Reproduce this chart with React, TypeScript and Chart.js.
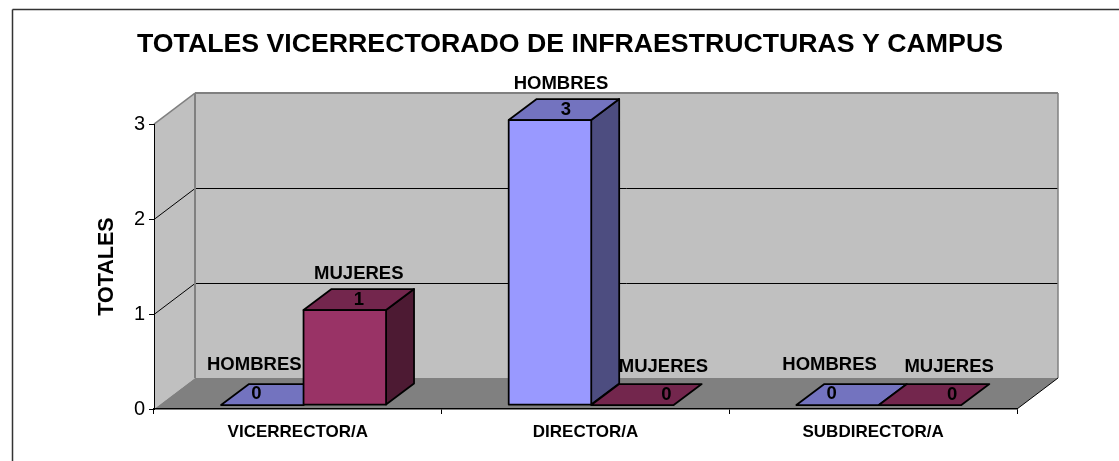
import React, { useEffect, useRef } from "react";
import { Chart, registerables } from "chart.js";

Chart.register(...registerables);

const titleText = "TOTALES VICERRECTORADO DE INFRAESTRUCTURAS Y CAMPUS";
const yAxisTitle = "TOTALES";
const categories = ["VICERRECTOR/A", "DIRECTOR/A", "SUBDIRECTOR/A"];
const hombres = [0, 3, 0];
const mujeres = [1, 0, 0];
const yTicks = [0, 1, 2, 3];

const FONT = '"Liberation Sans", Arial, sans-serif';

const WALL = { dx: 41, dy: -31 };
const BAR_SHIFT = { dx: 5.7, dy: -4 };
const BAR_DEPTH = { dx: 28, dy: -21 };
const EDGE = 1.75;

// [name dx, name dy, value dx, value dy] by dataset, then by category
const LABEL_NUDGE: number[][][] = [
  [[-22, -40, -20, -11], [-3, -36, 2, -10], [-22, -40, -20, -11]],
  [[0, -36, 0, -10], [17, -38, 20, -10], [15, -38, 18, -10]],
];

const poly = (ctx: CanvasRenderingContext2D, pts: number[][], fill: string, stroke?: string, lw = 1) => {
  ctx.beginPath();
  pts.forEach((p, i) => (i ? ctx.lineTo(p[0], p[1]) : ctx.moveTo(p[0], p[1])));
  ctx.closePath();
  ctx.fillStyle = fill;
  ctx.fill();
  if (stroke) {
    ctx.strokeStyle = stroke;
    ctx.lineWidth = lw;
    ctx.lineJoin = "round";
    ctx.stroke();
  }
};

const line = (ctx: CanvasRenderingContext2D, x1: number, y1: number, x2: number, y2: number, color: string, lw: number) => {
  ctx.beginPath();
  ctx.moveTo(x1, y1);
  ctx.lineTo(x2, y2);
  ctx.strokeStyle = color;
  ctx.lineWidth = lw;
  ctx.stroke();
};

const box3d = {
  id: "box3d",
  beforeDraw(chart: any) {
    const { ctx, chartArea: a, scales } = chart;
    const { dx, dy } = WALL;
    ctx.save();
    // outer frame of the chart object
    line(ctx, 12.5, 9.5, chart.width, 9.5, "#333", 1.5);
    line(ctx, 12.5, 9.5, 12.5, chart.height, "#333", 1.5);
    // back and left walls, floor
    poly(ctx, [[a.left + dx, a.top + dy], [a.right + dx, a.top + dy], [a.right + dx, a.bottom + dy], [a.left + dx, a.bottom + dy]], "#C0C0C0");
    poly(ctx, [[a.left, a.top], [a.left + dx, a.top + dy], [a.left + dx, a.bottom + dy], [a.left, a.bottom]], "#C0C0C0");
    poly(ctx, [[a.left, a.bottom], [a.left + dx, a.bottom + dy], [a.right + dx, a.bottom + dy], [a.right, a.bottom]], "#808080");
    // wall gridlines
    yTicks.slice(1, -1).forEach((v) => {
      const y = Math.round(scales.y.getPixelForValue(v)) + 0.5;
      line(ctx, a.left, y, a.left + dx, y + dy, "#000", 1);
      line(ctx, a.left + dx, y + dy, a.right + dx, y + dy, "#000", 1);
    });
    line(ctx, a.left, a.top, a.left + dx, a.top + dy, "#808080", 1.5);
    line(ctx, a.left + dx, a.top + dy, a.right + dx, a.top + dy, "#808080", 2);
    line(ctx, a.left + dx, a.top + dy, a.left + dx, a.bottom + dy, "#808080", 2);
    line(ctx, a.right + dx, a.top + dy, a.right + dx, a.bottom + dy, "#808080", 1.5);
    line(ctx, a.right, a.bottom, a.right + dx, a.bottom + dy, "#000", 1);
    ctx.restore();
  },
  beforeDatasetsDraw(chart: any) {
    const { ctx } = chart;
    ctx.save();
    ctx.translate(BAR_SHIFT.dx, BAR_SHIFT.dy);
    const { dx, dy } = BAR_DEPTH;
    chart.data.datasets.forEach((ds: any, i: number) => {
      chart.getDatasetMeta(i).data.forEach((el: any) => {
        const l = el.x - el.width / 2;
        const r = el.x + el.width / 2;
        const t = el.y;
        const b = el.base;
        if (b - t > 0.5) {
          poly(ctx, [[r, t], [r + dx, t + dy], [r + dx, b + dy], [r, b]], ds.sideColor, "#000", EDGE);
        }
        poly(ctx, [[l, t], [l + dx, t + dy], [r + dx, t + dy], [r, t]], ds.topColor, "#000", EDGE);
      });
    });
    ctx.restore();
  },
  beforeDatasetDraw(chart: any) {
    chart.ctx.save();
    chart.ctx.translate(BAR_SHIFT.dx, BAR_SHIFT.dy);
  },
  afterDatasetDraw(chart: any, args: any) {
    const { ctx } = chart;
    ctx.strokeStyle = "#000";
    ctx.lineWidth = EDGE;
    ctx.lineJoin = "round";
    args.meta.data.forEach((el: any) => {
      if (el.base - el.y > 0.5) {
        ctx.strokeRect(el.x - el.width / 2, el.y, el.width, el.base - el.y);
      }
    });
    ctx.restore();
  },
  afterDatasetsDraw(chart: any) {
    const { ctx } = chart;
    ctx.save();
    ctx.fillStyle = "#000";
    ctx.textAlign = "center";
    ctx.textBaseline = "middle";
    chart.data.datasets.forEach((ds: any, i: number) => {
      chart.getDatasetMeta(i).data.forEach((el: any, j: number) => {
        const cx = el.x + BAR_SHIFT.dx + BAR_DEPTH.dx / 2;
        const top = el.y + BAR_SHIFT.dy;
        const [nx, ny, vx, vy] = LABEL_NUDGE[i][j];
        ctx.font = `bold 18.5px ${FONT}`;
        ctx.fillText(ds.label, cx + nx, top + ny);
        ctx.fillText(String(ds.data[j]), cx + vx, top + vy);
      });
    });
    ctx.restore();
  },
};

export default function App() {
  const ref = useRef<HTMLCanvasElement>(null);
  useEffect(() => {
    const chart = new Chart(ref.current as HTMLCanvasElement, {
      type: "bar",
      data: {
        labels: categories,
        datasets: [
          { label: "HOMBRES", data: hombres, backgroundColor: "#9999FF", topColor: "#7373BF", sideColor: "#4D4D80", borderWidth: 0 },
          { label: "MUJERES", data: mujeres, backgroundColor: "#993366", topColor: "#73264D", sideColor: "#4D1A33", borderWidth: 0 },
        ] as any,
      },
      plugins: [box3d],
      options: {
        animation: false,
        responsive: false,
        layout: { padding: { left: 123, right: 102, top: 0, bottom: 0 } },
        datasets: { bar: { categoryPercentage: 0.5736, barPercentage: 1 } },
        plugins: {
          legend: { display: false },
          tooltip: { enabled: false },
          title: {
            display: true,
            text: titleText,
            color: "#000",
            font: { family: FONT, size: 26.7, weight: "bold", lineHeight: 1.2 },
            padding: { top: 29, bottom: 63 },
          },
        },
        scales: {
          x: {
            grid: { display: true, offset: true, drawOnChartArea: false, color: "#000", tickLength: 5, tickWidth: 1 },
            border: { display: true, color: "#000", width: 1.5 },
            ticks: { color: "#000", font: { family: FONT, size: 17, weight: "bold" }, padding: 8, maxRotation: 0 },
            afterFit: (s: any) => { s.height = 52; },
          },
          y: {
            min: 0,
            max: 3,
            grid: { display: true, drawOnChartArea: false, color: "#000", tickLength: 5, tickWidth: 1 },
            border: { display: true, color: "#000", width: 1 },
            ticks: { color: "#000", stepSize: 1, font: { family: FONT, size: 20 }, padding: 4 },
            title: {
              display: true,
              text: yAxisTitle,
              color: "#000",
              font: { family: FONT, size: 21.5, weight: "bold" },
              padding: { top: -29, bottom: 0 },
            },
            afterFit: (s: any) => { s.width = 31; },
          },
        },
      } as any,
    });
    return () => chart.destroy();
  }, []);
  return (
    <div style={{ position: "absolute", left: 0, top: 0, width: 1119, height: 461, background: "#fff" }}>
      <canvas ref={ref} width={1119} height={461} style={{ display: "block" }} />
    </div>
  );
}
